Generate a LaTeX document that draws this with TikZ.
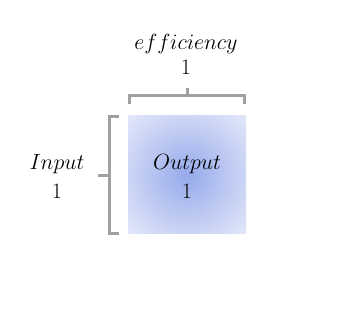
\documentclass[tikz,border=0pt]{standalone}
\usepackage{fix-cm}
\definecolor{shin}{RGB}{150,170,235}
\definecolor{shmid}{RGB}{205,214,245}
\definecolor{shout}{RGB}{228,232,250}
\definecolor{brace}{RGB}{160,160,160}
\pgfdeclareradialshading{softblue}{\pgfpoint{0bp}{0bp}}{color(0bp)=(shin); color(25bp)=(shmid); color(36bp)=(shout); color(50bp)=(shout)}
\begin{document}
\begin{tikzpicture}[x=1pt,y=1pt,
  lbl/.style={anchor=base,inner sep=0pt,font=\fontsize{22}{26}\selectfont},
  bracefill/.style={fill=brace}]
\useasboundingbox (0,0) rectangle (346,315);
% square
\path[shading=softblue] (128,81) rectangle (246,199);
% top brace
\coordinate (tl) at (128,211);
\coordinate (tr) at (246,211);
\coordinate (tm) at (188.5,227);
\fill[bracefill] (tl) rectangle (131,221);
\fill[bracefill] (128,218) rectangle (246,221);
\fill[bracefill] (243,211) rectangle (tr |- 0,221);
\fill[bracefill] (185.5,219) rectangle (tm);
% left brace
\coordinate (lt) at (119,200);
\coordinate (lb) at (119,80);
\coordinate (lm) at (98,138);
\fill[bracefill] (108,80) rectangle (111,200);
\fill[bracefill] (108,197) rectangle (lt);
\fill[bracefill] (108,83) rectangle (lb);
\fill[bracefill] (lm) rectangle (110,141);
% labels
\node[lbl] (eff) at (186,265) {$efficiency$};
\node[lbl] (effv) at (186,240) {$1$};
\node[lbl] (inp) at (57,145) {$Input$};
\node[lbl] (inpv) at (57,116) {$1$};
\node[lbl] (out) at (187,145) {$Output$};
\node[lbl] (outv) at (187,116) {$1$};
\end{tikzpicture}
\end{document}
